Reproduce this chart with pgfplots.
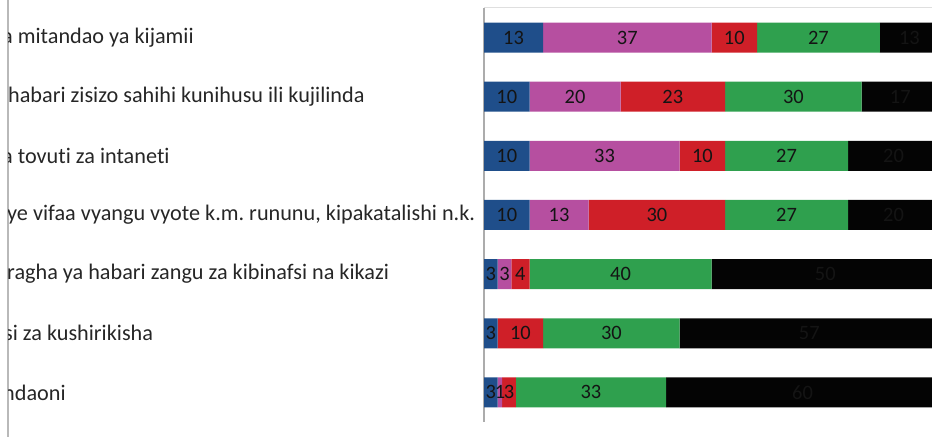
\documentclass[border=0pt]{standalone}
\usepackage{fontspec}
\setmainfont{Carlito}[Ligatures=NoCommon]
\usepackage{pgfplots}
\pgfplotsset{compat=1.18}
\definecolor{cblue}{HTML}{1F4E8A}
\definecolor{cpink}{HTML}{B64FA0}
\definecolor{cred}{HTML}{CF1F28}
\definecolor{cgreen}{HTML}{2FA04E}
\definecolor{cblack}{HTML}{040404}
\pgfplotsset{
  commonaxis/.style={
    at={(484bp,15bp)}, anchor=south west,
    scale only axis, width=455bp, height=414bp,
    xmin=0, xmax=100, ymin=0.5, ymax=7.5, y dir=reverse,
  }
}
\frenchspacing
\begin{document}
\frenchspacing
\begin{tikzpicture}[x=1bp,y=1bp]
\useasboundingbox (0,0) rectangle (932,437);
\draw[gray!55, line width=1.2bp] (8,0) -- (8,437);
\begin{scope}
\clip (8.6,0) rectangle (932,437);
\begin{axis}[commonaxis,
  xbar stacked, bar width=30bp,
  axis x line*=top, axis y line*=left,
  axis line style={-},
  x axis line style={draw=gray!25, line width=1bp},
  y axis line style={draw=gray!65, line width=1.6bp},
  xtick=\empty, ytick={1,2,3,4,5,6,7},
  major tick length=0pt,
  yticklabels={
    {\hspace*{-6bp}a mitandao ya kijamii},
    {habari zisizo sahihi kunihusu ili kujilinda},
    {\hspace*{-6bp}a tovuti za intaneti},
    {\hspace*{-1bp}ye vifaa vyangu vyote k.m. rununu, kipakatalishi n.k.},
    {\hspace*{-1bp}ragha ya habari zangu za kibinafsi na kikazi},
    {\hspace*{-4bp}si za kushirikisha},
    {\hspace*{-5bp}ndaoni}},
  yticklabel style={anchor=west, xshift=-476bp, inner sep=0pt,
    font=\fontsize{22.3}{26}\selectfont\frenchspacing, text=black!85},
]
\addplot[draw=none, fill=cblue] coordinates {(13,1) (10,2) (10,3) (10,4) (3,5) (3,6) (3,7)};
\addplot[draw=none, fill=cpink] coordinates {(37,1) (20,2) (33,3) (13,4) (3,5) (0,6) (1,7)};
\addplot[draw=none, fill=cred] coordinates {(10,1) (23,2) (10,3) (30,4) (4,5) (10,6) (3,7)};
\addplot[draw=none, fill=cgreen] coordinates {(27,1) (30,2) (27,3) (27,4) (40,5) (30,6) (33,7)};
\addplot[draw=none, fill=cblack] coordinates {(13,1) (17,2) (20,3) (20,4) (50,5) (57,6) (60,7)};
\end{axis}
\begin{axis}[commonaxis, axis lines=none,
  nodes near coords, point meta=explicit symbolic,
  every node near coord/.append style={anchor=center, inner sep=0pt,
    font=\fontsize{20.5}{24}\selectfont, text=black!92}]
\addplot[draw=none, mark=none] table[meta=lab] {
x y lab
6.5 1 13
31.5 1 37
55 1 10
73.5 1 27
93.5 1 13
5 2 10
20 2 20
41.5 2 23
68 2 30
91.5 2 17
5 3 10
26.5 3 33
48 3 10
66.5 3 27
90 3 20
5 4 10
16.5 4 13
38 4 30
66.5 4 27
90 4 20
1.5 5 3
4.5 5 3
8 5 4
30 5 40
75 5 50
1.5 6 3
8 6 10
28 6 30
71.5 6 57
1.5 7 3
3.5 7 1
5.5 7 3
23.5 7 33
70 7 60
};
\end{axis}
\end{scope}
\end{tikzpicture}
\end{document}
